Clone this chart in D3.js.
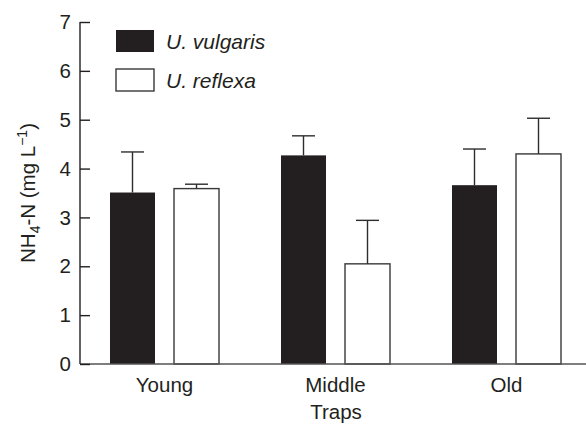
<!DOCTYPE html>
<html>
<head>
<meta charset="utf-8">
<script src="https://cdn.jsdelivr.net/npm/d3@7"></script>
<style>
  body { margin: 0; background: #fff; }
  svg text { font-family: "Liberation Sans", Arial, sans-serif; fill: #231f20; }
</style>
</head>
<body>
<div id="chart"></div>
<script>
// Data
const categories = ['Young', 'Middle', 'Old'];
const series = ['U. vulgaris', 'U. reflexa'];
const vulgarisMean = [3.51, 4.27, 3.66];
const vulgarisErr = [0.83, 0.40, 0.74];
const reflexaMean = [3.59, 2.05, 4.30];
const reflexaErr = [0.09, 0.89, 0.73];
const yTicks = [0, 1, 2, 3, 4, 5, 6, 7];

const width = 586, height = 425;
const ink = '#231f20';
const fills = { 'U. vulgaris': ink, 'U. reflexa': '#ffffff' };
const fs = 20.5;

const rows = [];
categories.forEach((c, i) => {
  rows.push({ cat: c, s: series[0], mean: vulgarisMean[i], err: vulgarisErr[i] });
  rows.push({ cat: c, s: series[1], mean: reflexaMean[i], err: reflexaErr[i] });
});

const svg = d3.select('#chart').append('svg')
  .attr('width', width)
  .attr('height', height);

const x0 = d3.scaleBand().domain(categories).range([79, 592]);
const x1 = d3.scaleBand().domain(series).range([31, 140]).paddingInner(0.297);
const y = d3.scaleLinear().domain([0, 7]).range([364, 22]);

// bars
svg.append('g').selectAll('rect')
  .data(rows)
  .enter()
  .append('rect')
  .attr('x', d => x0(d.cat) + x1(d.s))
  .attr('y', d => y(d.mean))
  .attr('width', x1.bandwidth())
  .attr('height', d => y(0) - y(d.mean))
  .attr('fill', d => fills[d.s])
  .attr('stroke', d => d.s === series[1] ? '#3a3738' : 'none')
  .attr('stroke-width', 1.4);

// error bars (upper only)
const eb = svg.append('g').attr('stroke', '#2f2c2d').attr('stroke-width', 1.4);
rows.forEach(d => {
  const cx = x0(d.cat) + x1(d.s) + x1.bandwidth() / 2;
  eb.append('line')
    .attr('x1', cx).attr('x2', cx)
    .attr('y1', y(d.mean)).attr('y2', y(d.mean + d.err));
  eb.append('line')
    .attr('x1', cx - 11.5).attr('x2', cx + 11.5)
    .attr('y1', y(d.mean + d.err)).attr('y2', y(d.mean + d.err));
});

// x axis baseline
svg.append('line')
  .attr('x1', 80).attr('x2', 586)
  .attr('y1', y(0)).attr('y2', y(0))
  .attr('stroke', '#555354').attr('stroke-width', 1.4);

// y axis
const yAxis = d3.axisRight(y).tickValues(yTicks).tickSize(10).tickFormat('');
const gy = svg.append('g').attr('transform', 'translate(80,0)').call(yAxis);
gy.select('.domain').attr('stroke', ink).attr('stroke-width', 1.4)
  .attr('d', `M0,${y(7)}V${y(0)}`);
gy.selectAll('.tick line').attr('stroke', ink).attr('stroke-width', 1.4);

svg.append('g').selectAll('text')
  .data(yTicks)
  .enter()
  .append('text')
  .attr('x', 71)
  .attr('y', d => y(d))
  .attr('dy', '0.35em')
  .attr('text-anchor', 'end')
  .attr('font-size', fs)
  .text(d => d);

// category labels
svg.append('g').selectAll('text')
  .data(categories)
  .enter()
  .append('text')
  .attr('x', d => x0(d) + x0.bandwidth() / 2)
  .attr('y', 392)
  .attr('text-anchor', 'middle')
  .attr('font-size', fs)
  .text(d => d);

svg.append('text')
  .attr('x', 336)
  .attr('y', 419)
  .attr('text-anchor', 'middle')
  .attr('font-size', fs)
  .text('Traps');

// y label
const yl = svg.append('text')
  .attr('transform', `translate(35,${(y(0) + y(7)) / 2}) rotate(-90)`)
  .attr('text-anchor', 'middle')
  .attr('font-size', fs);
yl.append('tspan').text('NH');
yl.append('tspan').attr('font-size', 14).attr('dy', 5).text('4');
yl.append('tspan').attr('dy', -5).text('-N (mg L');
yl.append('tspan').attr('font-size', 14).attr('dy', -8).text('\u22121');
yl.append('tspan').attr('dy', 8).text(')');

// legend
const lg = svg.append('g');
series.forEach((s, i) => {
  const ly = 30 + i * 39;
  lg.append('rect')
    .attr('x', 116).attr('y', ly)
    .attr('width', 38).attr('height', 22)
    .attr('fill', fills[s])
    .attr('stroke', i === 1 ? '#3a3738' : 'none')
    .attr('stroke-width', 1.4);
  lg.append('text')
    .attr('x', 166).attr('y', ly + 18.5)
    .attr('font-size', 21)
    .attr('font-style', 'italic')
    .text(s);
});
</script>
</body>
</html>
